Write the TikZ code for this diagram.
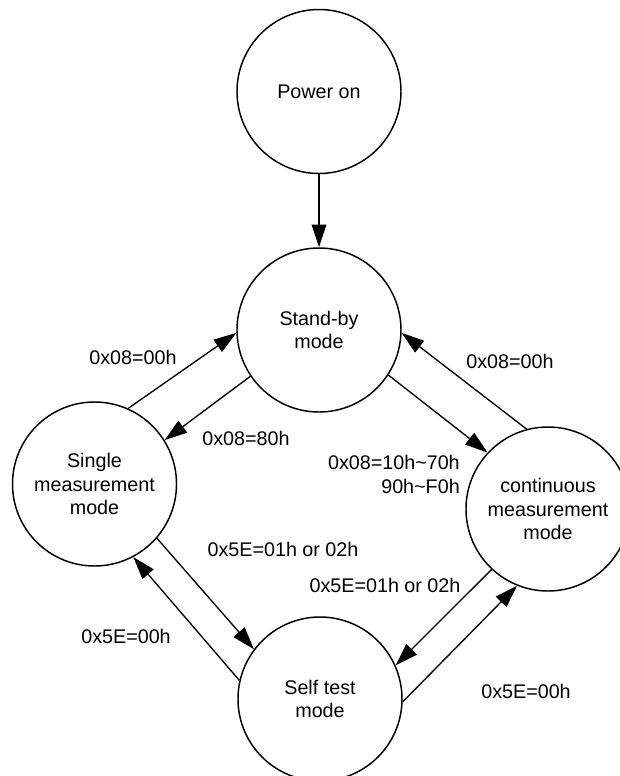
\documentclass[tikz,border=0pt]{standalone}
\usepackage{fontspec}
\setmainfont{Liberation Sans}
\usetikzlibrary{arrows.meta}
\begin{document}
\begin{tikzpicture}
[x=0.75pt,y=-0.75pt,
  statedecorate/.style={shape=circle,draw,line width=1.1pt,minimum size=123pt,inner sep=0pt,align=center,font=\fontsize{14.8}{17.8}\selectfont},
  labeldecorate/.style={inner sep=0pt,align=center,font=\fontsize{14.8}{17.8}\selectfont},
  arrowdecorate/.style={-{Triangle[length=17pt,width=11pt]},line width=1pt}]
\useasboundingbox (0,0) rectangle (620,776);
% states
\node (power) at (319,91.5) [statedecorate] {Power on};
\node (standby) at (319,330) [statedecorate] {Stand-by\\mode};
\node (single) at (94.5,484) [statedecorate] {Single\\measurement\\mode};
\node (cont) at (548,509) [statedecorate] {continuous\\measurement\\mode};
\node (selftest) at (320,699) [statedecorate] {Self test\\mode};
% register values
\node (l1) at (133,357) [labeldecorate] {0x08=00h};
\node (l2) at (246,438) [labeldecorate] {0x08=80h};
\node (l3) at (510,361) [labeldecorate] {0x08=00h};
\node (l4) at (460,474.5) [labeldecorate,anchor=east,align=right] {0x08=10h\textasciitilde70h\\90h\textasciitilde F0h};
\node (l5) at (283,549) [labeldecorate] {0x5E=01h or 02h};
\node (l6) at (126,636) [labeldecorate] {0x5E=00h};
\node (l7) at (385,585) [labeldecorate] {0x5E=01h or 02h};
\node (l8) at (526,691) [labeldecorate] {0x5E=00h};
% transitions
\path
(power) edge[arrowdecorate] (standby)
(single.66.5) edge[arrowdecorate] (standby.182)
(standby.214.6) edge[arrowdecorate] (single.32.8)
(standby.327.8) edge[arrowdecorate] (cont.137.3)
(cont.105.2) edge[arrowdecorate] (standby.358)
(single.319.6) edge[arrowdecorate] (selftest.143)
(selftest.167.5) edge[arrowdecorate] (single.298)
(cont.227.4) edge[arrowdecorate] (selftest.24.7)
(selftest.358.6) edge[arrowdecorate] (cont.248.5);
\end{tikzpicture}
\end{document}
